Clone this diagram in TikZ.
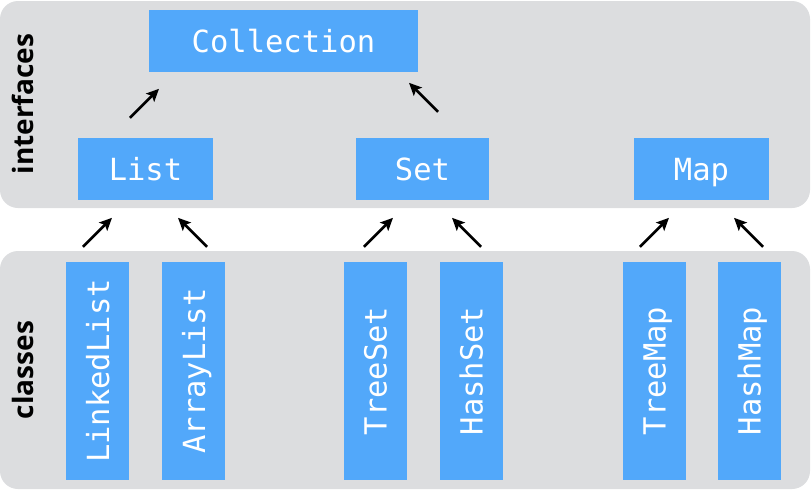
\documentclass[tikz,border=0pt]{standalone}
\usepackage{fontspec}
\usetikzlibrary{arrows.meta}
\setmonofont{DejaVu Sans Mono}
\newfontfamily\headfont{Open Sans}
\definecolor{panelgrey}{RGB}{220,221,223}
\definecolor{boxblue}{RGB}{82,168,250}

\begin{document}
\begin{tikzpicture}[x=1pt,y=-1pt]
		\tikzset{
			panel/.style={fill=panelgrey, rounded corners=18pt},
			ifbox/.style={fill=boxblue, text=white, inner sep=0pt,
					font=\ttfamily\fontsize{30.5}{30.5}\selectfont,
					text height=23pt, text depth=0pt, minimum height=62pt},
			clsbox/.style={ifbox, rotate=90, minimum width=218pt, minimum height=63pt},
			side/.style={rotate=90, inner sep=0pt,
					font=\headfont\bfseries\fontsize{28}{28}\selectfont},
			arr/.style={-{Stealth[length=12.5pt,width=11.5pt,inset=2.5pt]}, line width=2.7pt},
		}
		\useasboundingbox (0,0) rectangle (811,491);
		% the two grey bands
		\fill[panel] (0,1) rectangle (810,208);
		\fill[panel] (0,251) rectangle (810,489);
		\node[side] (iflabel) at (22.5,104) {interfaces};
		\node[side] (clslabel) at (22.5,370) {classes};
		%
		\node[ifbox, minimum width=269pt] (collection) at (283.5,40.5) {Collection};
		\node[ifbox, minimum width=135pt] (list) at (145.5,169) {List};
		\node[ifbox, minimum width=133pt] (set) at (422.5,169) {Set};
		\node[ifbox, minimum width=135pt] (map) at (701.5,169) {Map};
		%
		\node[clsbox] (linkedlist) at (97.5,371) {LinkedList};
		\node[clsbox] (arraylist) at (193.5,371) {ArrayList};
		\node[clsbox] (treeset) at (375,371) {TreeSet};
		\node[clsbox] (hashset) at (471,371) {HashSet};
		\node[clsbox] (treemap) at (654,371) {TreeMap};
		\node[clsbox] (hashmap) at (749,371) {HashMap};
		% short arrows
		\draw[arr] ([shift={(-15.5,-20)}]list.north) -- ++(29,-29);
		\draw[arr] ([shift={(15.5,-26)}]set.north) -- ++(-29,-29);
		\draw[arr] ([shift={(-14.5,-15)}]linkedlist.east) -- ++(29,-29);
		\draw[arr] ([shift={(13.5,-15)}]arraylist.east) -- ++(-29,-29);
		\draw[arr] ([shift={(-11,-15)}]treeset.east) -- ++(29,-29);
		\draw[arr] ([shift={(10,-15)}]hashset.east) -- ++(-29,-29);
		\draw[arr] ([shift={(-14,-15)}]treemap.east) -- ++(29,-29);
		\draw[arr] ([shift={(14,-15)}]hashmap.east) -- ++(-29,-29);
	\end{tikzpicture}
\end{document}
